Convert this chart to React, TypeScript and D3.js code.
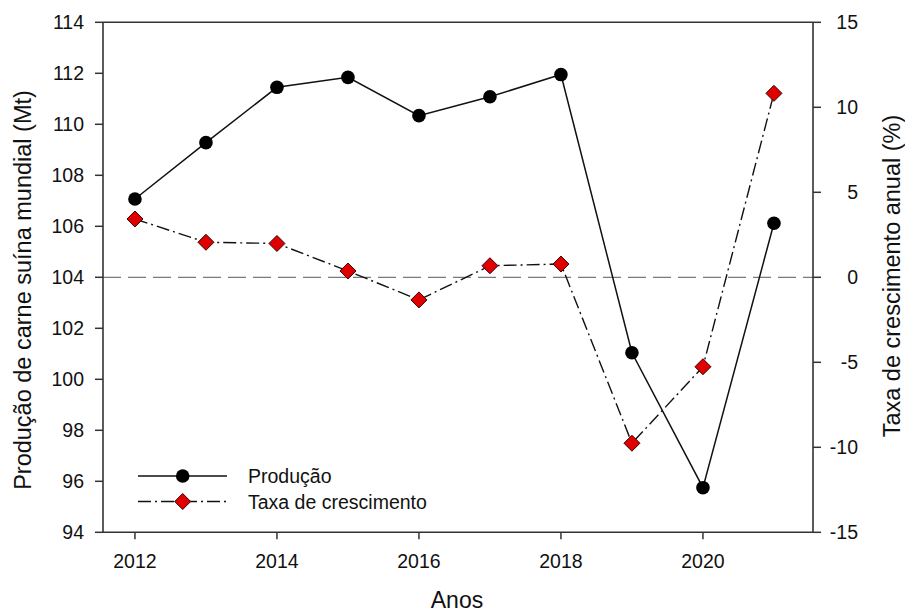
import React from "react";
import * as d3 from "d3";

const years = [2012, 2013, 2014, 2015, 2016, 2017, 2018, 2019, 2020, 2021];
const producao = [107.07, 109.28, 111.45, 111.84, 110.34, 111.08, 111.95, 101.04, 95.75, 106.12];
const taxa = [3.43, 2.06, 1.99, 0.37, -1.33, 0.68, 0.78, -9.76, -5.26, 10.82];
const xTicks = [2012, 2014, 2016, 2018, 2020];
const yLeftTicks = [94, 96, 98, 100, 102, 104, 106, 108, 110, 112, 114];
const yRightTicks = [-15, -10, -5, 0, 5, 10, 15];

const W = 905;
const H = 613;
const L = 103;
const R = 813;
const T = 22.3;
const B = 532.3;
const FONT = "Liberation Sans, Arial, sans-serif";

export default function App() {
  const x = d3.scaleLinear().domain([2011.55, 2021.55]).range([L, R]);
  const yL = d3.scaleLinear().domain([94, 114]).range([B, T]);
  const yR = d3.scaleLinear().domain([-15, 15]).range([B, T]);

  const lineP = d3
    .line<number>()
    .x((_, i) => x(years[i]))
    .y((d) => yL(d));
  const lineT = d3
    .line<number>()
    .x((_, i) => x(years[i]))
    .y((d) => yR(d));

  const diamond = (cx: number, cy: number, s: number) =>
    `M${cx},${cy - s}L${cx + s},${cy}L${cx},${cy + s}L${cx - s},${cy}Z`;

  const axisColor = "#333";
  const dashTaxa = "13,4,2,4";
  const tickFont = 19.5;

  return (
    <svg
      width={W}
      height={H}
      style={{ position: "absolute", left: 0, top: 0, background: "#fff" }}
      fontFamily={FONT}
    >
      {/* zero reference line */}
      <line
        x1={L}
        x2={R}
        y1={yR(0)}
        y2={yR(0)}
        stroke="#7a7a7a"
        strokeWidth={1.3}
        strokeDasharray="18,7"
      />

      {/* production line */}
      <path d={lineP(producao) || ""} fill="none" stroke="#111" strokeWidth={1.5} />
      {/* growth line */}
      <path
        d={lineT(taxa) || ""}
        fill="none"
        stroke="#111"
        strokeWidth={1.4}
        strokeDasharray={dashTaxa}
      />

      {producao.map((v, i) => (
        <circle key={"p" + i} cx={x(years[i])} cy={yL(v)} r={6.8} fill="#000" />
      ))}
      {taxa.map((v, i) => (
        <path
          key={"t" + i}
          d={diamond(x(years[i]), yR(v), 8)}
          fill="#e00000"
          stroke="#3a0000"
          strokeWidth={1}
        />
      ))}

      {/* frame */}
      <line x1={L} x2={R} y1={T} y2={T} stroke={axisColor} strokeWidth={1.6} />
      <line x1={L} x2={R} y1={B} y2={B} stroke={axisColor} strokeWidth={1.6} />
      <line x1={L} x2={L} y1={T} y2={B} stroke={axisColor} strokeWidth={1.6} />
      <line x1={R} x2={R} y1={T} y2={B} stroke={axisColor} strokeWidth={1.6} />

      {/* left axis ticks */}
      {yLeftTicks.map((t) => (
        <g key={"yl" + t}>
          <line x1={L - 8} x2={L} y1={yL(t)} y2={yL(t)} stroke={axisColor} strokeWidth={1.5} />
          <text
            x={L - 19}
            y={yL(t)}
            textAnchor="end"
            dominantBaseline="central"
            fontSize={tickFont}
            fill="#111"
          >
            {t}
          </text>
        </g>
      ))}

      {/* right axis ticks */}
      {yRightTicks.map((t) => (
        <g key={"yr" + t}>
          <line x1={R} x2={R + 8} y1={yR(t)} y2={yR(t)} stroke={axisColor} strokeWidth={1.5} />
          <text
            x={858}
            y={yR(t)}
            textAnchor="end"
            dominantBaseline="central"
            fontSize={tickFont}
            fill="#111"
          >
            {t}
          </text>
        </g>
      ))}

      {/* x axis ticks */}
      {xTicks.map((t) => (
        <g key={"x" + t}>
          <line x1={x(t)} x2={x(t)} y1={B} y2={B + 7} stroke={axisColor} strokeWidth={1.5} />
          <text
            x={x(t)}
            y={B + 29}
            textAnchor="middle"
            dominantBaseline="central"
            fontSize={tickFont}
            fill="#111"
          >
            {t}
          </text>
        </g>
      ))}

      {/* axis titles */}
      <text
        x={457}
        y={600}
        textAnchor="middle"
        dominantBaseline="central"
        fontSize={23}
        fill="#111"
      >
        Anos
      </text>
      <text
        transform={`translate(31,290) rotate(-90)`}
        textAnchor="middle"
        fontSize={23.5}
        fill="#111"
      >
        Produção de carne suína mundial (Mt)
      </text>
      <text
        transform={`translate(900,276) rotate(-90)`}
        textAnchor="middle"
        fontSize={23.5}
        fill="#111"
      >
        Taxa de crescimento anual (%)
      </text>

      {/* legend */}
      <g>
        <line x1={138} x2={227} y1={476} y2={476} stroke="#111" strokeWidth={1.5} />
        <circle cx={182.7} cy={476} r={6.8} fill="#000" />
        <text x={248} y={476} dominantBaseline="central" fontSize={19.5} fill="#111">
          Produção
        </text>
        <line
          x1={138}
          x2={227}
          y1={501.5}
          y2={501.5}
          stroke="#111"
          strokeWidth={1.4}
          strokeDasharray={dashTaxa}
        />
        <path d={diamond(182.7, 501.5, 8)} fill="#e00000" stroke="#3a0000" strokeWidth={1} />
        <text x={248} y={501.5} dominantBaseline="central" fontSize={19.5} fill="#111">
          Taxa de crescimento
        </text>
      </g>
    </svg>
  );
}
